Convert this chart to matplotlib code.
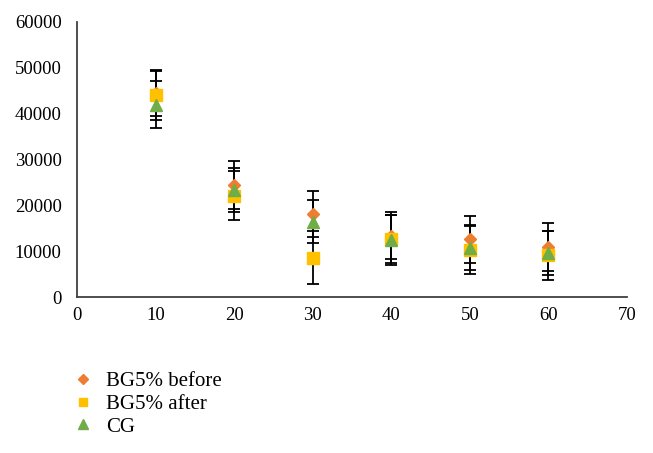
import numpy as np
import matplotlib.pyplot as plt

plt.rcParams['font.family'] = ['Liberation Serif', 'DejaVu Serif']

x = [10, 20, 30, 40, 50, 60]

before = [44500, 24500, 18100, 13400, 12600, 10900]
before_err = [5000, 5260, 5100, 5100, 5100, 5300]

after = [44000, 22100, 8600, 12700, 10300, 9100]
after_err = [5300, 5300, 5800, 5300, 5200, 5400]

cg = [42000, 23350, 16400, 12400, 10800, 9700]
cg_err = [5100, 4800, 4700, 5400, 5000, 4800]

fig = plt.figure(figsize=(6.53, 4.53), dpi=100)
ax = fig.add_axes([77/653, 1 - 297/453, 550/653, 275/453])

series = [
    ('BG5% before', before, before_err, 'D', '#ED7D31', 6),
    ('BG5% after', after, after_err, 's', '#FFC000', 8),
    ('CG', cg, cg_err, '^', '#70AD47', 8.5),
]
for label, vals, err, m, c, ms in series:
    ax.errorbar(x, vals, yerr=err, fmt='none', ecolor='black', elinewidth=1.3,
                capsize=4.5, capthick=1.3, zorder=2)
for label, vals, err, m, c, ms in series:
    ax.plot(x, vals, linestyle='none', marker=m, color=c, markersize=ms,
            label=label, zorder=3)

ax.set_xlim(0, 70)
ax.set_ylim(0, 60000)
ax.set_xticks(range(0, 71, 10))
ax.set_yticks(range(0, 60001, 10000))
ax.tick_params(length=0, labelsize=13.5)
ax.tick_params(axis='y', pad=11)
ax.tick_params(axis='x', pad=7)
for s in ['top', 'right']:
    ax.spines[s].set_visible(False)
for s in ['left', 'bottom']:
    ax.spines[s].set_color('#404040')
    ax.spines[s].set_linewidth(1.3)

fig.legend(loc='upper left', bbox_to_anchor=(54/653, 1 - 353/453), frameon=False,
           fontsize=15, handlelength=1.0, handletextpad=0.6, labelspacing=0.15,
           markerscale=0.8)

fig.savefig('out.png', dpi=100)
